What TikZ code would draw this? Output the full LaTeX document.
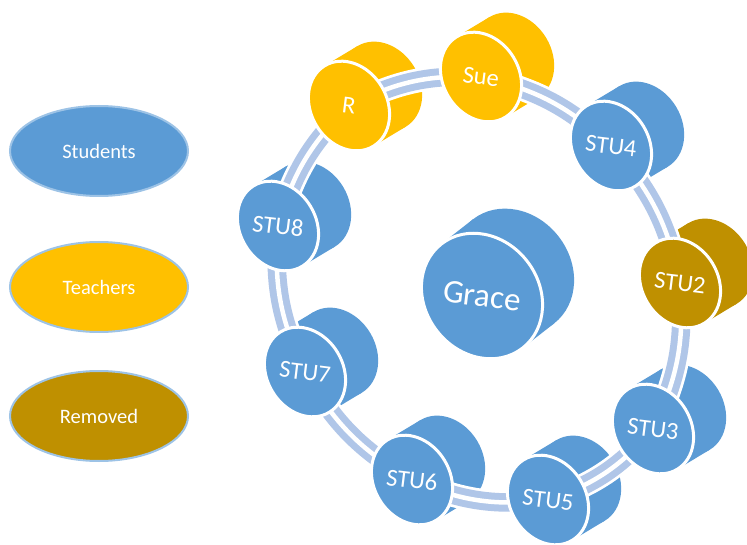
\documentclass[tikz,border=0pt]{standalone}
\usepackage{fontspec}
\setmainfont{Carlito}
\usetikzlibrary{shapes.geometric}

% drawing layers: cylinder bodies, then links, then front faces
\pgfdeclarelayer{backs}
\pgfdeclarelayer{links}
\pgfsetlayers{backs,links,main}

\definecolor{stublue}{HTML}{5B9BD5}
\definecolor{teachgold}{HTML}{FFC000}
\definecolor{removedgold}{HTML}{BF9000}
\definecolor{linkblue}{HTML}{B0C6E8}
\definecolor{rimblue}{HTML}{9DC3E6}

\newcommand{\ringfont}{\fontsize{24.5}{28}\selectfont}
\newcommand{\gracefont}{\fontsize{33}{36}\selectfont}

\tikzset{
  legend/.style={ellipse, draw=rimblue, line width=2pt, minimum width=178pt,
    minimum height=90pt, inner sep=0pt, text=white,
    font=\fontsize{20.5}{24}\selectfont},
  face/.style={ellipse, draw=white, line width=3pt, inner sep=0pt},
  facetext/.style={text=white, rotate=-7, inner sep=0pt},
  linkcase/.style={draw=white, line width=24pt},
  link/.style={draw=linkblue, line width=7pt, double=white, double distance=4.5pt},
}

% \coin{name}{position}{colour}{label}{half minor}{half major}{depth}{axis angle}{font}
\newcommand{\coin}[9]{%
  \begin{pgfonlayer}{backs}
    \fill[#3, shift={#2}, rotate=#8] (0pt,0pt) ellipse [x radius=#5pt, y radius=#6pt];
    \fill[#3, shift={#2}, rotate=#8] (#7pt,0pt) ellipse [x radius=#5pt, y radius=#6pt];
    \fill[#3, shift={#2}, rotate=#8] (0pt,-#6pt) -- (#7pt,-#6pt) -- (#7pt,#6pt) -- (0pt,#6pt) -- cycle;
  \end{pgfonlayer}
  \node[face, fill=#3, rotate=#8, minimum width=2*#5pt, minimum height=2*#6pt] (#1) at #2 {};
  \node[facetext, font={#9}] (#1-text) at (#1.center) {#4};
}

% double link following the ring
\newcommand{\linkit}[2]{%
  \begin{pgfonlayer}{links}
    \draw[linkcase] (#1.center) to[bend left=15] (#2.center);
    \draw[link] (#1.center) to[bend left=15] (#2.center);
  \end{pgfonlayer}
}

\begin{document}
\begin{tikzpicture}[x=1pt, y=-1pt]
\useasboundingbox (0,0) rectangle (747,545);

% legend
\node[legend, fill=stublue] (students) at (99,151) {Students};
\node[legend, fill=teachgold] (teachers) at (99,287) {Teachers};
\node[legend, fill=removedgold] (removed) at (99,416) {Removed};

% centre
\coin{grace}{(482,296)}{stublue}{Grace}{57}{66}{40}{38}{\gracefont}

% ring
\coin{r}{(349,106)}{teachgold}{R}{38}{47}{38}{31}{\ringfont}
\coin{sue}{(481,77)}{teachgold}{Sue}{38}{47}{38}{31}{\ringfont}
\coin{stu4}{(611,146)}{stublue}{STU4}{38}{47}{38}{31}{\ringfont}
\coin{stu2}{(680,283)}{removedgold}{STU2}{38}{47}{38}{31}{\ringfont}
\coin{stu3}{(653,429)}{stublue}{STU3}{38}{47}{38}{31}{\ringfont}
\coin{stu5}{(548,500)}{stublue}{STU5}{38}{47}{38}{31}{\ringfont}
\coin{stu6}{(412,480)}{stublue}{STU6}{38}{47}{38}{31}{\ringfont}
\coin{stu7}{(305,372)}{stublue}{STU7}{38}{47}{38}{31}{\ringfont}
\coin{stu8}{(278,226)}{stublue}{STU8}{38}{47}{38}{31}{\ringfont}

% links around the ring
\linkit{r}{sue}
\linkit{sue}{stu4}
\linkit{stu4}{stu2}
\linkit{stu2}{stu3}
\linkit{stu3}{stu5}
\linkit{stu5}{stu6}
\linkit{stu6}{stu7}
\linkit{stu7}{stu8}
\linkit{stu8}{r}
\end{tikzpicture}
\end{document}
